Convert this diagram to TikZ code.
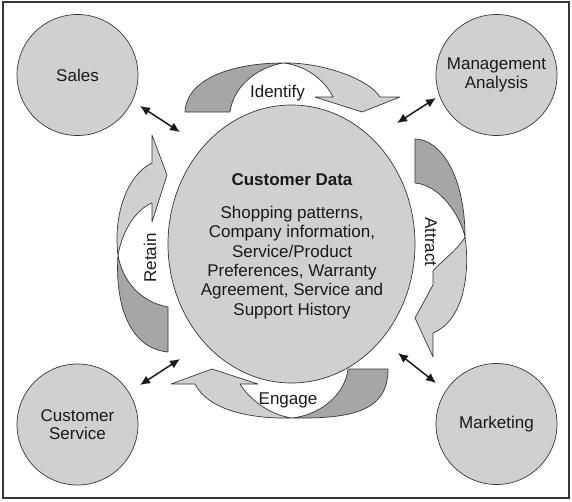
\documentclass[tikz,border=0pt]{standalone}
\usepackage{fontspec}
\setmainfont{Liberation Sans}
\usetikzlibrary{arrows.meta,shapes.geometric}
\definecolor{fillgray}{RGB}{208,208,208}
\definecolor{darkgray}{RGB}{166,166,166}
\definecolor{linegray}{RGB}{55,55,55}
\definecolor{txt}{RGB}{25,25,25}
\begin{document}
\begin{tikzpicture}[x=1pt,y=-1pt,
  every node/.style={text=txt,font=\fontsize{17}{18.5}\selectfont},
  role/.style={circle,draw=linegray,line width=0.7pt,fill=fillgray,minimum size=121pt,inner sep=0pt,align=center},
  core/.style={ellipse,draw=linegray,line width=0.7pt,fill=fillgray,minimum width=247pt,minimum height=278pt,inner sep=0pt},
  tailpart/.style={draw=linegray,line width=0.7pt,fill=darkgray,line join=round},
  headpart/.style={draw=linegray,line width=0.7pt,fill=fillgray,line join=round},
  link/.style={{Latex[length=10pt,width=9pt]}-{Latex[length=10pt,width=9pt]},line width=1.5pt,draw=black!90},
  lbl/.style={inner sep=0pt}]
\useasboundingbox (0,0) rectangle (572,501);
\draw[line width=1.2pt,draw=linegray] (3,2) rectangle (569,498);

% central ellipse
\node[core] (cd) at (291.5,244) {};
\node[lbl,font=\fontsize{17}{18.5}\selectfont\bfseries] (cdtitle) at (292,180) {Customer Data};
\node[lbl,align=center,font=\fontsize{17}{19.3}\selectfont] (cdbody) at (292,262.5) {Shopping patterns,\\Company information,\\Service/Product\\Preferences, Warranty\\Agreement, Service and\\Support History};

% outer circles
\node[role] (sales) at (77.5,75) {Sales};
\node[role] (mgmt) at (496.5,75) {Management\\Analysis};
\node[role] (cs) at (77.5,424.5) {Customer\\Service};
\node[role] (mkt) at (496.5,424) {Marketing};

% Identify arrow (top)
\draw[tailpart] (185,112) .. controls (186,80) and (230,63) .. (283,63)
  .. controls (255,68) and (233,88) .. (230,112) -- cycle;
\draw[headpart] (283,63) .. controls (320,62) and (368,78) .. (380,97)
  -- (400,97) -- (362,112) -- (315,97) -- (333,97)
  .. controls (325,80) and (305,65) .. (283,63) -- cycle;
\node[lbl] (identify) at (277.5,93) {Identify};

% Attract arrow (right)
\draw[tailpart] (415,139) .. controls (440,139) and (465,175) .. (465,237)
  .. controls (460,215) and (440,185) .. (415,183) -- cycle;
\draw[headpart] (465,237) .. controls (470,270) and (465,320) .. (433,333)
  -- (433,357) -- (415,318) -- (433,285) -- (433,271)
  .. controls (440,262) and (458,250) .. (465,237) -- cycle;
\node[lbl,rotate=-90] (attract) at (431,242) {Attract};

% Engage arrow (bottom)
\draw[tailpart] (388,369) .. controls (388,410) and (355,419) .. (292,418)
  .. controls (320,415) and (345,395) .. (348,369) -- cycle;
\draw[headpart] (292,418) .. controls (250,419) and (208,410) .. (195,384)
  -- (171,384) -- (212,369) -- (258,384) -- (240,384)
  .. controls (250,400) and (270,415) .. (292,418) -- cycle;
\node[lbl] (engage) at (288,400) {Engage};

% Retain arrow (left)
\draw[tailpart] (168,352) .. controls (127,348) and (115,300) .. (118,255)
  .. controls (122,280) and (140,302) .. (168,307) -- cycle;
\draw[headpart] (118,255) .. controls (113,215) and (127,175) .. (152,163)
  -- (152,135) -- (167,175) -- (152,222) -- (152,203)
  .. controls (135,210) and (122,232) .. (118,255) -- cycle;
\node[lbl,rotate=90] (retain) at (150,258) {Retain};

% double-headed links
\coordinate (sA) at (140,106); \coordinate (sB) at (180,132);
\coordinate (mA) at (436,98);  \coordinate (mB) at (397,123);
\coordinate (cA) at (140,385); \coordinate (cB) at (180,359);
\coordinate (kA) at (436,383); \coordinate (kB) at (398,353);
\draw[link] (sA) -- (sB);
\draw[link] (mA) -- (mB);
\draw[link] (cA) -- (cB);
\draw[link] (kA) -- (kB);
\end{tikzpicture}
\end{document}
